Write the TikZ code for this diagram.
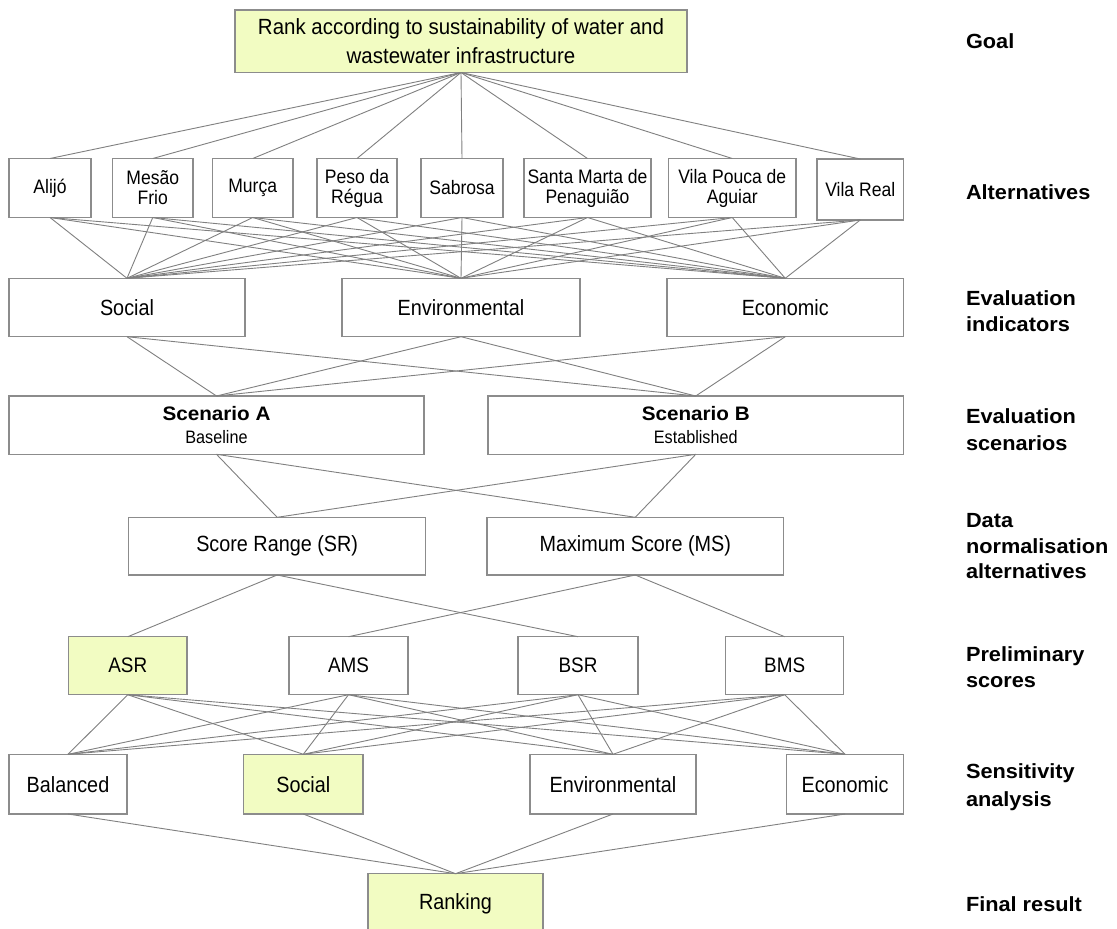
\documentclass[tikz,border=0pt]{standalone}
\usepackage{fontspec}
\setmainfont{Liberation Sans}[FakeStretch=0.9]
\newfontfamily\labelfont{Liberation Sans}[FakeStretch=1.06]
\newfontfamily\goalfont{Liberation Sans}[FakeStretch=0.93]
\definecolor{hl}{RGB}{242,252,194}
\definecolor{edgec}{RGB}{128,128,128}
\definecolor{bordc}{RGB}{140,140,140}
\tikzset{
  box/.style={draw=bordc, line width=1.4pt, inner sep=0pt, outer sep=0pt, align=center, fill=white, text=black},
  hlbox/.style={box, fill=hl},
  conn/.style={draw=edgec, line width=0.9pt},
  lab/.style={anchor=base west, inner sep=0pt, outer sep=0pt, font=\labelfont\bfseries\fontsize{20.5}{24}\selectfont},
  fa/.style={font=\fontsize{19.5}{20}\selectfont},
  fb/.style={font=\fontsize{22}{26}\selectfont},
  fc/.style={font=\fontsize{21}{24}\selectfont},
}
% name, x1, y1, x2, y2, style, text
\newcommand\mkbox[7]{%
  \node[#6, minimum width={(#4-#2)*1pt}, minimum height={(#5-#3)*1pt}] (#1) at ({(#2+#4)/2},{(#3+#5)/2}) {#7};}
\begin{document}
\begin{tikzpicture}[x=1pt,y=-1pt]
\fill[white] (0,0) rectangle (1117,929);
\useasboundingbox (0,0) rectangle (1117,929);
% Goal
\mkbox{goal}{235}{10}{687}{72.5}{hlbox,font=\goalfont\fontsize{22}{28.7}\selectfont}{Rank according to sustainability of water and\\wastewater infrastructure}
% Alternatives
\mkbox{alijo}{9}{158.5}{91}{217.5}{box,fa}{Alijó}
\mkbox{mesao}{112.5}{158.5}{193}{217.5}{box,fa}{Mesão\\Frio}
\mkbox{murca}{212.5}{158.5}{293}{217.5}{box,fa}{Murça}
\mkbox{peso}{317}{158.5}{397}{217.5}{box,fa}{Peso da\\Régua}
\mkbox{sabrosa}{421}{158.5}{503}{217.5}{box,fa}{Sabrosa}
\mkbox{santa}{524}{158.5}{651}{217.5}{box,fa}{Santa Marta de\\Penaguião}
\mkbox{vpouca}{668.5}{158.5}{796}{217.5}{box,fa}{Vila Pouca de\\Aguiar}
\mkbox{vreal}{817}{159}{903.5}{220}{box,fa}{Vila Real}
% Evaluation indicators
\mkbox{isoc}{9}{278.3}{245}{336.7}{box,fb}{Social}
\mkbox{ienv}{342}{278.3}{580}{336.7}{box,fb}{Environmental}
\mkbox{ieco}{667}{278.3}{903.5}{336.7}{box,fb}{Economic}
% Scenarios
\mkbox{scA}{9}{396}{424}{454.3}{box,font=\fontsize{18}{22.7}\selectfont}{{\labelfont\bfseries\fontsize{19.5}{22.7}\selectfont Scenario A}\\Baseline}
\mkbox{scB}{488}{396}{903.5}{454.3}{box,font=\fontsize{18}{22.7}\selectfont}{{\labelfont\bfseries\fontsize{19.5}{22.7}\selectfont Scenario B}\\Established}
% Normalisation
\mkbox{nSR}{128.6}{517.3}{425.7}{575}{box,fb}{Score Range (SR)}
\mkbox{nMS}{487}{517.3}{783.5}{575}{box,fb}{Maximum Score (MS)}
% Preliminary scores
\mkbox{pASR}{68.6}{636.7}{187}{694.7}{hlbox,fc}{ASR}
\mkbox{pAMS}{289}{636.7}{408}{694.7}{box,fc}{AMS}
\mkbox{pBSR}{518}{636.7}{638}{694.7}{box,fc}{BSR}
\mkbox{pBMS}{725.6}{636.7}{843.7}{694.7}{box,fc}{BMS}
% Sensitivity
\mkbox{sbal}{9}{754.3}{127}{814}{box,fb}{Balanced}
\mkbox{ssoc}{243.6}{754.3}{363}{814}{hlbox,fb}{Social}
\mkbox{senv}{530}{754.3}{696}{814}{box,fb}{Environmental}
\mkbox{seco}{786.6}{754.3}{903.5}{814}{box,fb}{Economic}
% Final
\mkbox{rank}{368}{873.7}{543}{933}{hlbox,fb}{Ranking}
% Connectors
\foreach \a in {alijo,mesao,murca,peso,sabrosa,santa,vpouca,vreal}{
  \draw[conn] (goal.south) -- (\a.north);
  \foreach \b in {isoc,ienv,ieco} \draw[conn] (\a.south) -- (\b.north);
}
\foreach \a in {isoc,ienv,ieco}{\foreach \b in {scA,scB} \draw[conn] (\a.south) -- (\b.north);}
\foreach \a in {scA,scB}{\foreach \b in {nSR,nMS} \draw[conn] (\a.south) -- (\b.north);}
\draw[conn] (nSR.south) -- (pASR.north);
\draw[conn] (nSR.south) -- (pBSR.north);
\draw[conn] (nMS.south) -- (pAMS.north);
\draw[conn] (nMS.south) -- (pBMS.north);
\foreach \a in {pASR,pAMS,pBSR,pBMS}{\foreach \b in {sbal,ssoc,senv,seco} \draw[conn] (\a.south) -- (\b.north);}
\foreach \a in {sbal,ssoc,senv,seco} \draw[conn] (\a.south) -- (rank.north);
% Level labels
\node[lab] (lgoal) at (966,48.3) {Goal};
\node[lab] (lalt) at (966,199) {Alternatives};
\node[lab] (lind1) at (966,305) {Evaluation};
\node[lab] (lind2) at (966,331.5) {indicators};
\node[lab] (lsc1) at (966,423.3) {Evaluation};
\node[lab] (lsc2) at (966,450) {scenarios};
\node[lab] (ln1) at (966,527.5) {Data};
\node[lab] (ln2) at (966,553) {normalisation};
\node[lab] (ln3) at (966,578.5) {alternatives};
\node[lab] (lp1) at (966,661.7) {Preliminary};
\node[lab] (lp2) at (966,687.3) {scores};
\node[lab] (ls1) at (966,778.3) {Sensitivity};
\node[lab] (ls2) at (966,806) {analysis};
\node[lab] (lf) at (966,911.7) {Final result};
\end{tikzpicture}
\end{document}
